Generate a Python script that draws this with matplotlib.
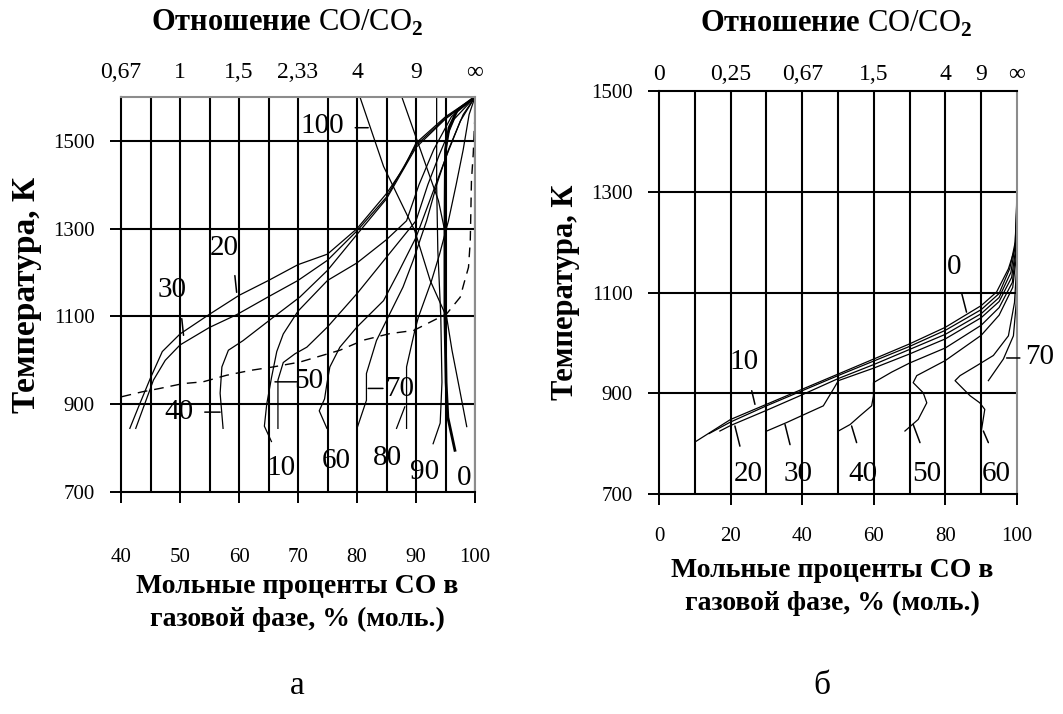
import numpy as np
import matplotlib
matplotlib.use("Agg")
import matplotlib.pyplot as plt

plt.rcParams['font.family'] = ['Liberation Serif', 'DejaVu Serif']
plt.rcParams['mathtext.fontset'] = 'custom'
plt.rcParams['mathtext.rm'] = 'Liberation Serif'
plt.rcParams['mathtext.bf'] = 'Liberation Serif:bold'

# ---- данные, рисунок а (x = % CO, y = T, K) ----
a_top_pos = [40, 50, 60, 70, 80, 90, 100]
a_top_labels = ['0,67', '1', '1,5', '2,33', '4', '9', '∞']
a_xticks = [40, 50, 60, 70, 80, 90, 100]
a_yticks = [700, 900, 1100, 1300, 1500]

a_c30 = [(41.5, 845), (43, 895), (45, 960), (47, 1020), (50, 1060), (55, 1105), (60, 1148),
         (65, 1182), (70, 1218), (75, 1242), (80, 1300), (85, 1380), (88, 1440), (90, 1495),
         (95, 1555), (100, 1600)]
a_c20 = [(42.5, 845), (44, 900), (45.5, 955), (47.5, 1000), (50, 1035), (55, 1075), (59.6, 1104),
         (65, 1145), (70, 1182), (75, 1228), (80, 1295), (85, 1372), (90, 1490), (95, 1552), (100, 1600)]
a_c40 = [(57.3, 845), (56.8, 925), (57.1, 985), (58.2, 1023), (60.7, 1045), (65.8, 1098),
         (70.3, 1144), (75, 1205), (80, 1287), (85, 1368), (90, 1485), (95, 1550), (100, 1600)]
a_c10 = [(65.5, 815), (64.3, 850), (64.7, 900), (65.5, 960), (66.4, 1020), (67.5, 1060), (70, 1112),
         (75, 1182), (80, 1222), (85, 1275), (88.4, 1318), (90.5, 1400), (93, 1480), (96, 1555), (100, 1600)]
a_c50 = [(66.6, 845), (66.6, 955), (67.5, 995), (69.5, 1015), (71.5, 1030), (75, 1076), (80, 1152),
         (85, 1235), (90, 1318), (92, 1400), (94, 1470), (96.5, 1550), (100, 1600)]
a_c60 = [(74.9, 845), (73.6, 885), (74.5, 912), (74.9, 947), (75.4, 985), (77.1, 1030), (80, 1076),
         (84.5, 1136), (87, 1200), (90, 1280), (92.5, 1370), (95, 1460), (97.5, 1545), (100, 1600)]
a_c80 = [(80, 845), (81.6, 909), (81.6, 970), (83.3, 1045), (85, 1091), (87.8, 1167), (89.5, 1227),
         (91.8, 1318), (93.5, 1400), (95.5, 1480), (98, 1560), (100, 1600)]
a_c70 = [(88.4, 845), (88.4, 985), (89.8, 1068), (90.4, 1098), (92.6, 1180), (94, 1242), (95.5, 1318),
         (96.8, 1400), (98, 1480), (99, 1560), (100, 1600)]
a_c70b = [(86.7, 845), (88.1, 894)]
a_c90 = [(92.9, 810), (94.1, 857), (94.4, 950), (94.2, 1100), (93.7, 1250), (93.5, 1400), (93.5, 1600)]
a_c0 = [(96.6, 795), (95.4, 870), (95.1, 950), (94.9, 1100), (94.9, 1300), (95, 1480),
        (95.6, 1530), (97, 1570), (100, 1600)]
a_c100 = [(80.5, 1600), (84.5, 1442), (87.3, 1364), (89.8, 1295), (92.4, 1182), (95.2, 1098),
          (96.1, 1023), (97.3, 940), (98.6, 849)]
a_diag = [(87.6, 1600), (89.8, 1516), (92.4, 1417), (93.8, 1364), (94.8, 1300)]
a_dash = [(40.1, 917), (43.5, 928), (46.6, 936), (50.5, 947), (53.9, 951), (57.9, 966), (61.9, 977),
          (65.8, 985), (70.3, 996), (77.1, 1023), (81.1, 1046), (85.6, 1061), (89.6, 1068),
          (92.4, 1087), (95.2, 1106), (97.5, 1144), (98.1, 1174), (98.9, 1212), (99.2, 1273),
          (99.4, 1410), (99.7, 1470), (100, 1560)]

a_curves = [a_c30, a_c20, a_c40, a_c10, a_c50, a_c60, a_c80, a_c70, a_c70b, a_c90, a_diag, a_c100]

# ---- данные, рисунок б ----
b_top_pos = [0, 20, 40, 60, 80, 90, 100]
b_top_labels = ['0', '0,25', '0,67', '1,5', '4', '9', '∞']
b_xticks = [0, 20, 40, 60, 80, 100]
b_yticks = [700, 900, 1100, 1300, 1500]

b_c0 = [(10, 803), (20, 848), (30, 878), (40, 908), (50, 938), (60, 968), (70, 998), (80, 1031),
        (90, 1074), (94.3, 1101), (97.6, 1147), (99.4, 1187), (99.8, 1240), (100, 1320)]
b_c10 = [(14, 820), (20, 843), (30, 875), (40, 905), (50, 935), (60, 964), (70, 993), (80, 1025),
         (90, 1066), (95, 1098), (98, 1148), (99.5, 1200), (100, 1290)]
b_c20 = [(17, 825), (20, 836), (30, 866), (40, 897), (50, 929), (60, 957), (70, 987), (80, 1017),
         (90, 1058), (95, 1090), (98.3, 1140), (99.6, 1200), (100, 1280)]
b_c30 = [(30.1, 825), (35.7, 842), (39.7, 855), (45.9, 875), (48.7, 908), (50.1, 925), (60, 950),
         (70, 978), (80, 1008), (90, 1050), (95, 1082), (98.5, 1130), (99.7, 1190), (100, 1270)]
b_c40 = [(50.1, 825), (53.4, 838), (56.1, 855), (59.4, 875), (59.9, 895), (59.9, 921), (65, 942),
         (70, 960), (80, 990), (90, 1035), (95, 1070), (98.7, 1120), (99.7, 1180), (100, 1260)]
b_c50 = [(68.7, 825), (72.4, 848), (74.8, 881), (73.8, 901), (71, 921), (72, 935), (80, 965),
         (90, 1015), (95, 1055), (98.8, 1110), (99.8, 1170), (100, 1250)]
b_c60 = [(90.1, 828), (91, 868), (89.6, 881), (86.9, 895), (84.1, 915), (82.7, 925), (84.1, 935),
         (88.8, 955), (93.4, 975), (97.6, 1014), (99.3, 1080), (99.9, 1150), (100, 1240)]
b_c70 = [(92, 925), (96.2, 968), (99, 1014), (99.8, 1080), (100, 1200)]

b_curves = [b_c0, b_c10, b_c20, b_c30, b_c40, b_c50, b_c60, b_c70]

fig = plt.figure(figsize=(10.63, 7.14), dpi=100)

GRID_LW = 1.5


def setup(ax, xlim, ylim, xgrid, ygrid, xticks, yticks, top_pos, top_labels, xpad, toppad):
    ax.set_xlim(*xlim)
    ax.set_ylim(*ylim)
    for x in xgrid:
        ax.axvline(x, color='black', lw=GRID_LW, zorder=1)
    for y in ygrid:
        ax.axhline(y, color='black', lw=GRID_LW, zorder=1)
    ax.set_xticks(xticks)
    ax.set_yticks(yticks)
    ax.tick_params(direction='out', length=8, width=1.4, labelsize=15, colors='black')
    ax.tick_params(axis='x', pad=xpad)
    ax.tick_params(axis='y', pad=11)
    for s in ['left', 'bottom', 'top', 'right']:
        ax.spines[s].set_linewidth(GRID_LW)
    ax.spines['top'].set_color('#8c8c8c')
    ax.spines['right'].set_color('#8c8c8c')
    sec = ax.secondary_xaxis('top')
    sec.set_xticks(top_pos, top_labels)
    sec.tick_params(length=0, pad=toppad, labelsize=17)
    sec.spines['top'].set_visible(False)
    return sec


def draw(ax, curve, **kw):
    pts = np.array(curve)
    ax.plot(pts[:, 0], pts[:, 1], color='black', **kw)


def leader(ax, p0, p1, clip=True):
    ax.annotate('', xy=p0, xytext=p1, annotation_clip=clip,
                arrowprops=dict(arrowstyle='-', lw=1.1, color='black', shrinkA=0, shrinkB=0))


LBL = 21

# ---------- а ----------
ax1 = fig.add_axes([121 / 1063, 1 - 492 / 714, 354 / 1063, 395 / 714])
setup(ax1, (40, 100), (700, 1600), range(45, 101, 5), [900, 1100, 1300, 1500],
      a_xticks, a_yticks, a_top_pos, a_top_labels, xpad=32, toppad=10)
for c in a_curves:
    draw(ax1, c, lw=0.9, zorder=2)
draw(ax1, a_c0, lw=2.0, zorder=2)
draw(ax1, a_dash, lw=1.0, ls=(0, (7, 5)), zorder=2)

for txt, x, y in [('100', 74.1, 1534), ('20', 57.5, 1255), ('30', 48.6, 1161), ('40', 49.8, 882),
                  ('50', 71.9, 952), ('10', 67.2, 754), ('60', 76.4, 770), ('80', 85.2, 777),
                  ('90', 91.4, 745), ('0', 98.1, 732), ('70', 87.3, 934)]:
    ax1.text(x, y, txt, fontsize=LBL, ha='center', va='center', zorder=3)
leader(ax1, (79.7, 1530), (81.9, 1530))
leader(ax1, (59.3, 1193), (59.6, 1155))
leader(ax1, (50.3, 1095), (50.6, 1057))
leader(ax1, (54.2, 882), (56.8, 882))
leader(ax1, (66.1, 951), (69.8, 951))
leader(ax1, (81.9, 936), (84.4, 936))

ax1.set_ylabel('Температура, К', fontsize=24, fontweight='bold', labelpad=8)

# ---------- б ----------
ax2 = fig.add_axes([659 / 1063, 1 - 494 / 714, 358 / 1063, 403 / 714])
setup(ax2, (0, 100), (700, 1500), range(10, 100, 10), [900, 1100, 1300],
      b_xticks, b_yticks, b_top_pos, b_top_labels, xpad=16, toppad=4)
ax2.spines['top'].set_color('black')
for c in b_curves:
    draw(ax2, c, lw=0.9, zorder=2)

for txt, x, y in [('0', 82.3, 1151), ('10', 23.7, 962), ('20', 24.9, 740), ('30', 38.8, 740),
                  ('40', 57.0, 740), ('50', 74.9, 740), ('60', 94.1, 740)]:
    ax2.text(x, y, txt, fontsize=LBL, ha='center', va='center', zorder=3)
ax2.text(106.4, 972, '70', fontsize=LBL, ha='center', va='center', clip_on=False)
leader(ax2, (84.6, 1097), (85.9, 1061))
leader(ax2, (25.9, 905), (26.8, 878))
leader(ax2, (21.2, 835), (22.6, 795))
leader(ax2, (35.2, 838), (36.6, 798))
leader(ax2, (53.8, 835), (55.2, 802))
leader(ax2, (71.0, 838), (72.9, 802))
leader(ax2, (90.6, 825), (92.0, 802))
leader(ax2, (97.1, 970), (100.8, 970), clip=False)

ax2.set_ylabel('Температура, К', fontsize=22, fontweight='bold', labelpad=8)

# ---------- подписи ----------
title = r'$\mathbf{Отношение}$ CO/CO$_\mathbf{2}$'
fig.text(287 / 1063, 1 - 23 / 714, title, fontsize=22, ha='center', va='center')
fig.text(836 / 1063, 1 - 24 / 714, title, fontsize=22, ha='center', va='center')

xl = 'Мольные проценты CO в\nгазовой фазе, % (моль.)'
fig.text(297 / 1063, 1 - 603 / 714, xl, fontsize=20, fontweight='bold', ha='center', va='center',
         linespacing=1.45)
fig.text(832 / 1063, 1 - 587 / 714, xl, fontsize=20, fontweight='bold', ha='center', va='center',
         linespacing=1.45)

fig.text(297 / 1063, 1 - 686 / 714, 'а', fontsize=24, ha='center', va='center')
fig.text(822 / 1063, 1 - 686 / 714, 'б', fontsize=24, ha='center', va='center')

fig.savefig('out.png', dpi=100)
